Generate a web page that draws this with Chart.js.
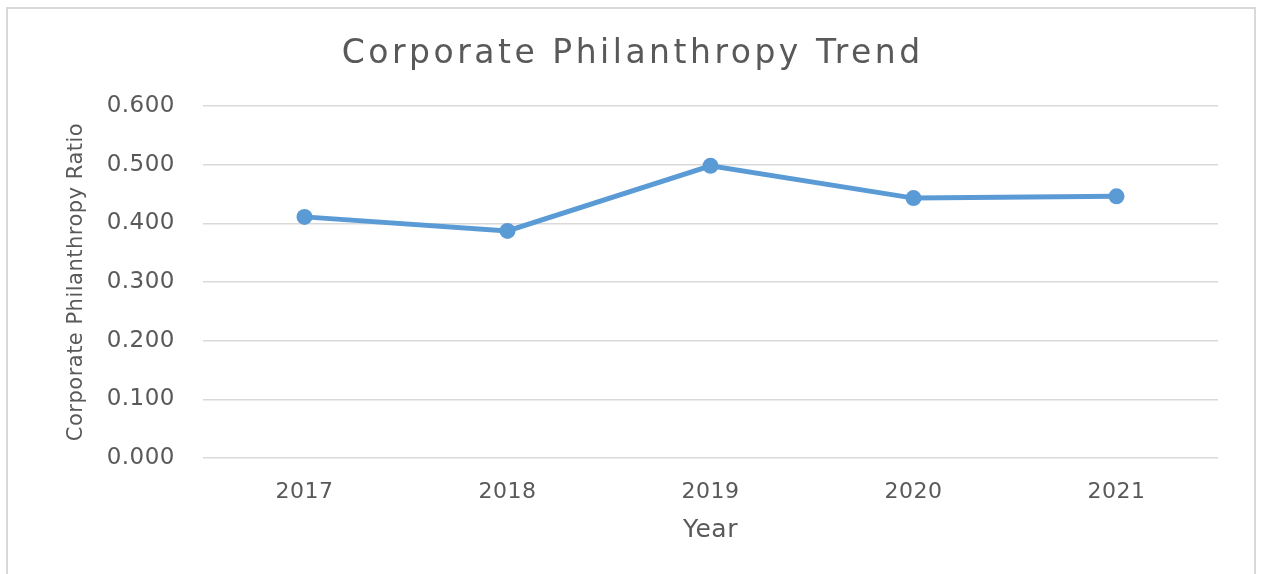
<!DOCTYPE html>
<html>
<head>
<meta charset="utf-8">
<script src="https://cdn.jsdelivr.net/npm/chart.js@4.4.1/dist/chart.umd.min.js"></script>
<style>
html,body{margin:0;padding:0;background:#fff;}
#wrap{position:relative;width:1261px;height:574px;overflow:hidden;background:#fff;}
#frame{position:absolute;left:6px;top:7px;width:1250px;height:620px;border:2px solid #d9d9d9;box-sizing:border-box;}
#c{position:absolute;left:0;top:0;}
</style>
</head>
<body>
<div id="wrap"><div id="frame"></div><canvas id="c" width="1261" height="574"></canvas></div>
<script>
// ---- data ----
const chartTitle = 'Corporate Philanthropy Trend';
const xTitle = 'Year';
const yTitle = 'Corporate Philanthropy Ratio';
const years = ['2017', '2018', '2019', '2020', '2021'];
const ratios = [0.411, 0.387, 0.498, 0.443, 0.446];
const yMin = 0;
const yMax = 0.6;
const yStep = 0.1;

// ---- styling ----
const TEXT = '#595959';
const GRID = '#d9d9d9';
const LINE = '#5b9bd5';
const FONT = '"DejaVu Sans", "Liberation Sans", sans-serif';

const spacingPlugin = {
  id: 'spacing',
  beforeDraw(chart) { chart.ctx.letterSpacing = '0.5px'; },
  afterDraw(chart) {
    const ctx = chart.ctx;
    ctx.save();
    ctx.letterSpacing = '3.5px';
    ctx.font = '33px ' + FONT;
    ctx.fillStyle = TEXT;
    ctx.textAlign = 'center';
    ctx.textBaseline = 'alphabetic';
    ctx.fillText(chartTitle, 631 + 1.75, 63);
    ctx.restore();
    ctx.letterSpacing = '0px';
  }
};

new Chart(document.getElementById('c'), {
  type: 'line',
  data: {
    labels: years,
    datasets: [{
      data: ratios,
      borderColor: LINE,
      backgroundColor: LINE,
      borderWidth: 5,
      pointRadius: 8,
      pointHoverRadius: 8,
      pointBorderWidth: 0,
      pointBackgroundColor: LINE,
      tension: 0,
      fill: false
    }]
  },
  options: {
    responsive: false,
    animation: false,
    devicePixelRatio: 1,
    layout: { padding: { top: 106, right: 43, left: 0, bottom: 0 } },
    plugins: {
      legend: { display: false },
      tooltip: { enabled: false },
      title: { display: false }
    },
    scales: {
      x: {
        type: 'category',
        offset: true,
        grid: { display: false, drawTicks: false },
        border: { display: false },
        ticks: { color: TEXT, font: { family: FONT, size: 22 }, padding: 21, maxRotation: 0 },
        title: { display: true, text: xTitle, color: TEXT, font: { family: FONT, size: 25 }, padding: { top: 0, bottom: 29 } },
        afterFit(scale) { scale.height = 116; }
      },
      y: {
        min: yMin,
        max: yMax,
        grid: { color: GRID, lineWidth: 1.5, drawTicks: false },
        border: { display: false },
        ticks: {
          stepSize: yStep,
          color: TEXT,
          font: { family: FONT, size: 23 },
          padding: 28,
          callback: v => Number(v).toFixed(3)
        },
        title: { display: true, text: yTitle, color: TEXT, font: { family: FONT, size: 21 }, padding: { top: 64, bottom: 0 } },
        afterFit(scale) { scale.width = 203; }
      }
    }
  },
  plugins: [spacingPlugin]
});
</script>
</body>
</html>
